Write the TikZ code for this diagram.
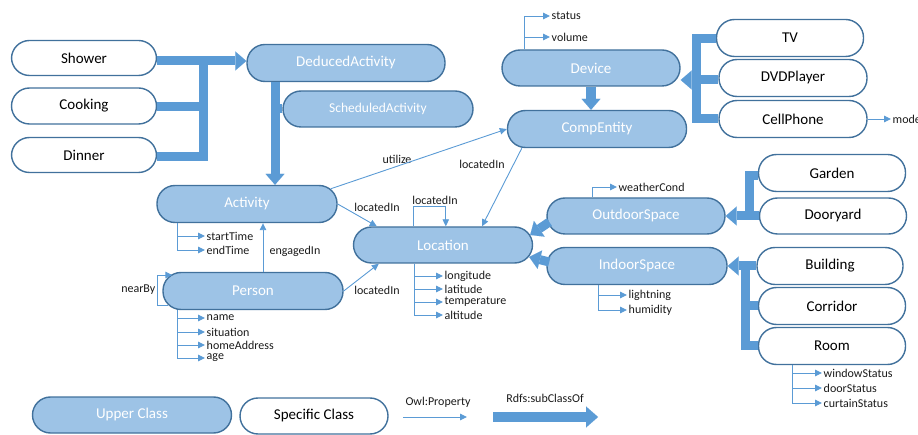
\documentclass[tikz,border=0pt]{standalone}
\usepackage{fontspec}
\setmainfont{Carlito}
\usetikzlibrary{arrows.meta,calc}
\definecolor{upfill}{HTML}{9DC3E6}
\definecolor{bord}{HTML}{41719C}
\definecolor{arr}{HTML}{5B9BD5}
\definecolor{txt}{HTML}{1A1A1A}
\begin{document}
\begin{tikzpicture}[x=1pt,y=-1pt,
 cls/.style={draw=bord, line width=1.4pt, rounded corners=18pt, inner sep=0pt, minimum height=36pt, font=\fontsize{15}{17}\selectfont},
 upper/.style={cls, fill=upfill, text=white},
 spec/.style={cls, fill=white, text=black},
 lbl/.style={font=\fontsize{12}{14}\selectfont, inner xsep=1.5pt, inner ysep=0pt, text=txt},
 thinln/.style={draw=arr, line width=0.9pt},
 thinar/.style={thinln, -{Triangle[length=7pt,width=6.5pt]}},
 fatline/.style={draw=arr, line width=9pt},
 fatar/.style={fatline, -{Triangle[length=11pt,width=19pt,line width=0.01pt]}}]
\useasboundingbox (0,0) rectangle (918,435);

% ---------- nodes ----------
\node[spec, minimum width=145pt, minimum height=35pt] (shower) at (84,58) {Shower};
\node[spec, minimum width=145pt] (cooking) at (84,106) {Cooking};
\node[spec, minimum width=145pt, minimum height=35pt] (dinner) at (84,155) {Dinner};
\node[upper, minimum width=198pt, minimum height=37pt] (deduced) at (346,63) {DeducedActivity};
\node[upper, minimum width=190pt, font=\fontsize{13.5}{15}\selectfont] (scheduled) at (378,109) {ScheduledActivity};
\node[upper, minimum width=180pt, minimum height=37pt] (activity) at (247,204) {Activity};
\node[upper, minimum width=180pt, minimum height=37pt] (person) at (253,291) {Person};
\node[upper, minimum width=179pt] (location) at (443,245) {Location};
\node[upper, minimum width=178pt] (device) at (591,68) {Device};
\node[upper, minimum width=179pt, minimum height=37pt] (compentity) at (597,129) {CompEntity};
\node[spec, minimum width=147pt, minimum height=37pt] (tv) at (790,38) {TV};
\node[spec, minimum width=148pt, minimum height=37pt] (dvd) at (793,78) {DVDPlayer};
\node[spec, minimum width=148pt, minimum height=37pt] (cell) at (793,119) {CellPhone};
\node[upper, minimum width=178pt] (outdoor) at (636,216) {OutdoorSpace};
\node[upper, minimum width=180pt, minimum height=37pt] (indoor) at (637,266) {IndoorSpace};
\node[spec, minimum width=147pt, minimum height=37pt] (garden) at (832,173) {Garden};
\node[spec, minimum width=147pt] (dooryard) at (833,216) {Dooryard};
\node[spec, minimum width=146pt, minimum height=37pt] (building) at (830,266) {Building};
\node[spec, minimum width=147pt, minimum height=37pt] (corridor) at (832,306) {Corridor};
\node[spec, minimum width=147pt, minimum height=37pt] (room) at (832,346) {Room};
\node[upper, minimum width=199pt] (upperlg) at (132,415) {Upper Class};
\node[spec, minimum width=148pt] (speclg) at (314,416) {Specific Class};

% ---------- subclass (thick) connectors ----------
\coordinate (jtop) at (203,61);
\draw[fatar] ([yshift=-3pt]shower.east) -- ([yshift=-3pt]shower.east -| deduced.west);
\draw[fatline] ($(dinner.east)+(0,2)$) -| (jtop);
\draw[fatline] ($(cooking.east)+(0,1)$) -- ($(cooking.east -| jtop)+(0,1)$);

\coordinate (j2) at (275,0);
\draw[fatar] (deduced.south -| j2) -- (activity.north -| j2);
\draw[fatline] (scheduled.west) -- (scheduled.west -| j2);

\coordinate (j3) at (696,0);
\draw[fatline] ($(tv.west)+(0,1)$) -| (cell.west -| j3) -- (cell.west);
\draw[fatar] ($(dvd.west)+(0,2)$) -- ($(dvd.west -| device.east)+(0,2)$);
\draw[fatar, line width=10pt] (device.south) -- (device.south |- compentity.north);

\coordinate (j4) at (749,0);
\draw[fatline] ($(garden.west)+(0,3)$) -| (dooryard.west -| j4);
\draw[fatar] (dooryard.west) -- (outdoor.east);

\coordinate (j5) at (745,0);
\draw[fatar] (building.west) -- (indoor.east);
\draw[fatline] ($(building.west -| j5)+(0,-4.5)$) |- (room.west);
\draw[fatline] (corridor.west) -- (corridor.west -| j5);

\draw[fatar] ($(outdoor.west)+(3,6)$) -- ($(location.east)+(-3,-10)$);
\draw[fatar] ($(indoor.west)+(3,-4)$) -- ($(location.east)+(-4,12)$);

% ---------- object properties ----------
\node[lbl] (lutil) at (397,159) {utilize};
\node[lbl] (lloc1) at (482,164) {locatedIn};
\node[lbl] (lloc2) at (377,207) {locatedIn};
\node[lbl] (lloc3) at (435,200) {locatedIn};
\node[lbl] (lloc4) at (377,290) {locatedIn};
\node[lbl] (leng) at (295,251) {engagedIn};
\node[lbl, anchor=east] (lnear) at (157,290) {nearBy};

\draw[thinar] ($(activity.north east)+(-7,4)$) -- (compentity.west);
\draw[thinar] ($(compentity.south west)+(15,0)$) -- ($(location.north)+(39,0)$);
\draw[thinar] (activity.east) -- ($(location.north west)+(24,0)$);
\draw[thinar] (person.east) -- ($(location.south west)+(26,0)$);
\draw[thinar] ($(person.north)+(10,0)$) -- ($(activity.south)+(16,0)$);
\draw[thinar] ($(location.north west)+(61,0)$) -- ++(0,-20) -| ($(location.north west)+(93,0)$);
\draw[thinar] ($(person.west)+(6,14)$) -- ++(-11,0) |- ($(person.west)+(10,-16)$);

% ---------- datatype properties ----------
\node[lbl, anchor=west] (pstatus) at (550,16) {status};
\node[lbl, anchor=west] (pvolume) at (550,37) {volume};
\draw[thinar] ($(device.north west)+(23,0)$) |- (pstatus.west);
\draw[thinar] ($(device.north west)+(23,0)$) |- (pvolume.west);

\node[lbl, anchor=west] (pmodel) at (891,119) {model};
\draw[thinar] (cell.east) -- (pmodel.west);

\node[lbl, anchor=west] (pstart) at (205,236) {startTime};
\node[lbl, anchor=west] (pend) at (205,250) {endTime};
\draw[thinar] ($(activity.south west)+(21,0)$) |- (pstart.west);
\draw[thinar] ($(activity.south west)+(21,0)$) |- (pend.west);

\node[lbl, anchor=west] (pname) at (205,318) {name};
\node[lbl, anchor=west] (psit) at (205,332) {situation};
\node[lbl, anchor=west] (phome) at (205,345) {homeAddress};
\node[lbl, anchor=west] (page) at (205,358) {age};
\foreach \p in {pname,psit,phome,page}
  \draw[thinar] ($(person.south west)+(15,0)$) |- (\p.west);

\node[lbl, anchor=west] (plon) at (443,276) {longitude};
\node[lbl, anchor=west] (plat) at (443,289) {latitude};
\node[lbl, anchor=west] (ptemp) at (443,302) {temperature};
\node[lbl, anchor=west] (palt) at (443,315) {altitude};
\foreach \p in {plon,plat,ptemp,palt}
  \draw[thinar] ($(location.south west)+(61.5,0)$) |- (\p.west);

\node[lbl, anchor=west] (pweather) at (617,187) {weatherCond};
\draw[thinar] ($(outdoor.north west)+(46,0)$) |- (pweather.west);

\node[lbl, anchor=west] (plight) at (627,295) {lightning};
\node[lbl, anchor=west] (phum) at (627,310) {humidity};
\foreach \p in {plight,phum}
  \draw[thinar] ($(indoor.south west)+(52,0)$) |- (\p.west);

\node[lbl, anchor=west] (pwin) at (822,373) {windowStatus};
\node[lbl, anchor=west] (pdoor) at (822,388) {doorStatus};
\node[lbl, anchor=west] (pcurt) at (822,403) {curtainStatus};
\foreach \p in {pwin,pdoor,pcurt}
  \draw[thinar] ($(room.south west)+(34.5,0)$) |- (\p.west);

% ---------- legend ----------
\coordinate (owlA) at (403,417);
\coordinate (owlB) at (467,417);
\draw[thinar] (owlA) -- (owlB);
\node[lbl] (lowl) at (438,402) {Owl:Property};
\coordinate (rdfA) at (493,417);
\coordinate (rdfB) at (598,417);
\draw[fatar, line width=10pt, -{Triangle[length=12pt,width=21pt,line width=0.01pt]}] (rdfA) -- (rdfB);
\node[lbl] (lrdf) at (545,398) {Rdfs:subClassOf};
\end{tikzpicture}
\end{document}
